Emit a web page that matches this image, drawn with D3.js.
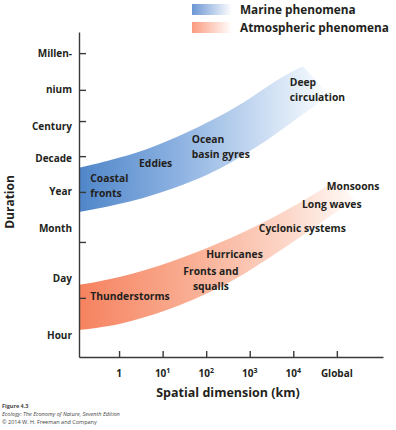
<!DOCTYPE html>
<html>
<head>
<meta charset="utf-8">
<script src="https://cdn.jsdelivr.net/npm/d3@7"></script>
<style>
  body { margin: 0; background: #fff; }
  text { font-family: "Open Sans", sans-serif; fill: #231f20; }
</style>
</head>
<body>
<div id="chart"></div>
<script>
// x values are log10(km), "Global" sits at 5
let xTicks = [0, 1, 2, 3, 4, 5];
let xTickBase = ["1", "10", "10", "10", "10", "Global"];
let xTickExp = ["", "1", "2", "3", "4", ""];

// duration positions on an abstract scale (0 = bottom of axis)
let yLabelNames = ["Millen-", "nium", "Century", "Decade", "Year", "Month", "Day", "Hour"];
let yLabelVals = [9.35, 8.22, 7.08, 6.12, 5.08, 3.94, 2.43, 0.65];
let yTickVals = [9.35, 8.22, 7.26, 6.18, 5.08, 3.54, 1.82];

// band edges [x, y]
let marineUpper = [[-0.92, 5.82], [0.41, 6.25], [1.40, 6.80], [2.32, 7.40], [3.07, 8.00], [3.70, 8.60], [4.22, 8.95]];
let marineLower = [[-0.92, 4.46], [0.41, 4.80], [1.56, 5.33], [2.32, 5.78], [3.17, 6.45], [3.92, 7.18], [4.84, 8.05]];
let atmoUpper = [[-0.92, 2.22], [0.02, 2.44], [1.17, 2.90], [2.32, 3.50], [3.46, 4.22], [4.38, 4.92], [5.00, 5.45]];
let atmoLower = [[-0.92, 0.83], [0.02, 0.98], [1.17, 1.45], [2.32, 2.12], [3.07, 2.72], [3.85, 3.40], [4.61, 4.12], [5.41, 4.83]];

// phenomena labels: lines, x, y (data units)
let marineLabels = [
  {lines: ["Coastal", "fronts"], x: -0.66, y: 5.51},
  {lines: ["Eddies"], x: 0.46, y: 5.97},
  {lines: ["Ocean", "basin gyres"], x: 1.67, y: 6.71},
  {lines: ["Deep", "circulation"], x: 3.92, y: 8.46}
];
let atmoLabels = [
  {lines: ["Monsoons"], x: 4.77, y: 5.26},
  {lines: ["Long waves"], x: 4.20, y: 4.71},
  {lines: ["Cyclonic systems"], x: 3.21, y: 3.97},
  {lines: ["Hurricanes"], x: 2.00, y: 3.17},
  {lines: ["Fronts and", "squalls"], x: 2.11, y: 2.62, mid: true},
  {lines: ["Thunderstorms"], x: -0.66, y: 1.88}
];

let legendNames = ["Marine phenomena", "Atmospheric phenomena"];
let footer = ["Figure 4.3", "Ecology: The Economy of Nature, Seventh Edition", "\u00a9 2014 W. H. Freeman and Company"];

let width = 396, height = 430;

let svg = d3.select('#chart')
  .append('svg')
    .attr('width', width)
    .attr('height', height);

let xScale = d3.scaleLinear()
  .domain([-0.92, 6.06])
  .range([79, 383]);

let yScale = d3.scaleLinear()
  .domain([0, 10])
  .range([357, 32]);

let defs = svg.append('defs');
function grad(id, x1, x2, stops) {
  defs.append('linearGradient')
      .attr('id', id)
      .attr('gradientUnits', 'userSpaceOnUse')
      .attr('x1', x1).attr('y1', 0)
      .attr('x2', x2).attr('y2', 0)
    .selectAll('stop')
    .data(stops)
    .enter().append('stop')
      .attr('offset', d => d[0])
      .attr('stop-color', d => d[1]);
}
grad('marine-grad', xScale(-0.92), xScale(4.8), [["0%", "#4f86c9"], ["40%", "#8db2e1"], ["75%", "#cddef3"], ["100%", "#fbfdff"]]);
grad('atmo-grad', xScale(-0.92), xScale(5.4), [["0%", "#f6825f"], ["40%", "#f9ad92"], ["75%", "#fcd6c7"], ["100%", "#fffaf8"]]);
grad('marine-leg', 192, 232, [["0%", "#6c97d4"], ["100%", "#ffffff"]]);
grad('atmo-leg', 192, 232, [["0%", "#fb9b80"], ["100%", "#ffffff"]]);

let edge = d3.line()
  .x(d => xScale(d[0]))
  .y(d => yScale(d[1]))
  .curve(d3.curveBasis);

function band(upper, lower, fill) {
  let p = edge(upper) + 'L' + edge(lower.slice().reverse()).slice(1) + 'Z';
  svg.append('path')
    .attr('d', p)
    .attr('fill', fill);
}
band(marineUpper, marineLower, 'url(#marine-grad)');
band(atmoUpper, atmoLower, 'url(#atmo-grad)');

// axes
let yAxis = d3.axisLeft(yScale)
  .tickValues(yTickVals)
  .tickSize(-7)
  .tickSizeOuter(0)
  .tickFormat('');
svg.append('g')
  .attr('class', 'y axis')
  .attr('transform', 'translate(' + xScale(-0.92) + ',0)')
  .call(yAxis);

let xAxis = d3.axisBottom(xScale)
  .tickValues(xTicks)
  .tickSize(-6)
  .tickSizeOuter(0)
  .tickFormat('');
svg.append('g')
  .attr('class', 'x axis')
  .attr('transform', 'translate(0,' + yScale(0) + ')')
  .call(xAxis);

svg.selectAll('.axis path, .axis line')
  .attr('stroke', '#3a3a3a')
  .attr('stroke-width', 1.4);

svg.selectAll('.ylab')
  .data(yLabelNames)
  .enter().append('text')
    .attr('x', 72)
    .attr('y', (d, i) => yScale(yLabelVals[i]))
    .attr('dy', '0.35em')
    .attr('text-anchor', 'end')
    .style('font-size', '10px')
    .style('font-weight', 700)
    .text(d => d);

let xl = svg.selectAll('.xlab')
  .data(xTicks)
  .enter().append('text')
    .attr('x', d => xScale(d))
    .attr('y', 373)
    .attr('dy', '0.35em')
    .attr('text-anchor', 'middle')
    .style('font-size', '10px')
    .style('font-weight', 700);
xl.append('tspan').text((d, i) => xTickBase[i]);
xl.append('tspan')
  .attr('dy', '-0.45em')
  .style('font-size', '7px')
  .text((d, i) => xTickExp[i]);

svg.append('text')
  .attr('x', 228)
  .attr('y', 393)
  .attr('dy', '0.35em')
  .attr('text-anchor', 'middle')
  .style('font-size', '12.5px')
  .style('font-weight', 700)
  .text('Spatial dimension (km)');

svg.append('text')
  .attr('transform', 'translate(10,202) rotate(-90)')
  .attr('dy', '0.35em')
  .attr('text-anchor', 'middle')
  .style('font-size', '12px')
  .style('font-weight', 700)
  .text('Duration');

// phenomena labels
function labels(list) {
  list.forEach(function (d) {
    let t = svg.append('text')
      .attr('text-anchor', d.mid ? 'middle' : 'start')
      .style('font-size', '10.3px')
      .style('font-weight', 700);
    d.lines.forEach(function (l, i) {
      t.append('tspan')
        .attr('x', xScale(d.x))
        .attr('y', yScale(d.y) + i * 15)
        .attr('dy', '0.35em')
        .text(l);
    });
  });
}
labels(marineLabels);
labels(atmoLabels);

// legend
let leg = svg.selectAll('.leg')
  .data(legendNames)
  .enter().append('g')
    .attr('transform', (d, i) => 'translate(0,' + (i * 18) + ')');
leg.append('rect')
  .attr('x', 192).attr('y', 4)
  .attr('width', 40).attr('height', 11)
  .attr('fill', (d, i) => i === 0 ? 'url(#marine-leg)' : 'url(#atmo-leg)');
leg.append('text')
  .attr('x', 240).attr('y', 10)
  .attr('dy', '0.35em')
  .style('font-size', '11.8px')
  .style('font-weight', 700)
  .text(d => d);

// footer
svg.selectAll('.foot')
  .data(footer)
  .enter().append('text')
    .attr('x', 2)
    .attr('y', (d, i) => 406 + i * 8)
    .attr('dy', '0.35em')
    .style('font-size', '5.5px')
    .style('font-weight', (d, i) => i === 0 ? 700 : 400)
    .style('font-style', (d, i) => i === 1 ? 'italic' : 'normal')
    .style('fill', '#444')
    .text(d => d);
</script>
</body>
</html>
